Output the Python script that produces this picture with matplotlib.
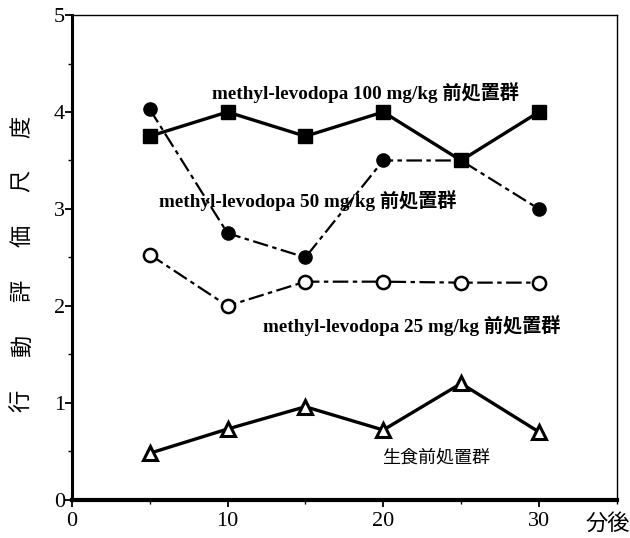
import matplotlib.pyplot as plt
from matplotlib.ticker import MultipleLocator

plt.rcParams['font.family'] = ['Liberation Serif', 'Noto Sans CJK JP']

# time after treatment (min)
minutes = [5, 10, 15, 20, 25, 30]

# behaviour scores per group
dose100 = [3.75, 4.0, 3.75, 4.0, 3.5, 4.0]
dose50 = [4.03, 2.75, 2.5, 3.5, 3.5, 3.0]
dose25 = [2.53, 2.0, 2.25, 2.25, 2.24, 2.24]
saline = [0.48, 0.73, 0.96, 0.72, 1.2, 0.7]

labels = ['methyl-levodopa 100 mg/kg 前処置群',
          'methyl-levodopa 50 mg/kg 前処置群',
          'methyl-levodopa 25 mg/kg 前処置群',
          '生食前処置群']
ylabel = '行動評価尺度'

fig = plt.figure(figsize=(6.3, 5.38), dpi=100)
ax = fig.add_axes([0.114, 0.071, 0.865, 0.901])

dashdot = (0, (7, 2, 2, 2))
ax.plot(minutes, dose50, color='black', lw=1.6, ls=dashdot,
        marker='o', ms=9.5, mfc='black', mec='black', zorder=3)
ax.plot(minutes, dose25, color='black', lw=1.6, ls=dashdot,
        marker='o', ms=9.5, mfc='white', mec='black', mew=1.8, zorder=3)
ax.plot(minutes, dose100, color='black', lw=2.4,
        marker='s', ms=10.5, mfc='black', mec='black', zorder=4)
ax.plot(minutes, saline, color='black', lw=2.4,
        marker='^', ms=10.5, mfc='white', mec='black', mew=2.2, zorder=3)

ax.set_xlim(0, 35)
ax.set_ylim(0, 5)
ax.set_xticks([0, 10, 20, 30])
ax.set_yticks([0, 1, 2, 3, 4, 5])
ax.xaxis.set_minor_locator(MultipleLocator(5))
ax.yaxis.set_minor_locator(MultipleLocator(0.5))
ax.tick_params(which='major', direction='out', length=5, width=1.3,
               labelsize=16)
ax.tick_params(which='minor', direction='out', length=3, width=1.0)
ax.tick_params(axis='x', pad=4)
ax.tick_params(axis='y', pad=0)

ax.spines['left'].set_linewidth(2.2)
ax.spines['bottom'].set_linewidth(3.0)
ax.spines['top'].set_linewidth(1.0)
ax.spines['right'].set_linewidth(1.0)

bold = dict(fontsize=13.8, fontweight='bold', color='black', va='center')
ax.text(9.0, 4.2, labels[0], **bold)
ax.text(5.6, 3.09, labels[1], **bold)
ax.text(12.3, 1.8, labels[2], **bold)
ax.text(19.9, 0.44, labels[3], fontsize=13, color='black', va='center',
        family=['Noto Sans CJK JP'])

fig.text(0.965, 0.028, '分後', fontsize=16, family=['Noto Sans CJK JP'],
         ha='center', va='center')
for i, ch in enumerate(ylabel):
    fig.text(0.035, 0.255 + i * 0.102, ch, fontsize=16, rotation=90,
             family=['Noto Sans CJK JP'], ha='center', va='center')

fig.savefig('out.png', dpi=100)
